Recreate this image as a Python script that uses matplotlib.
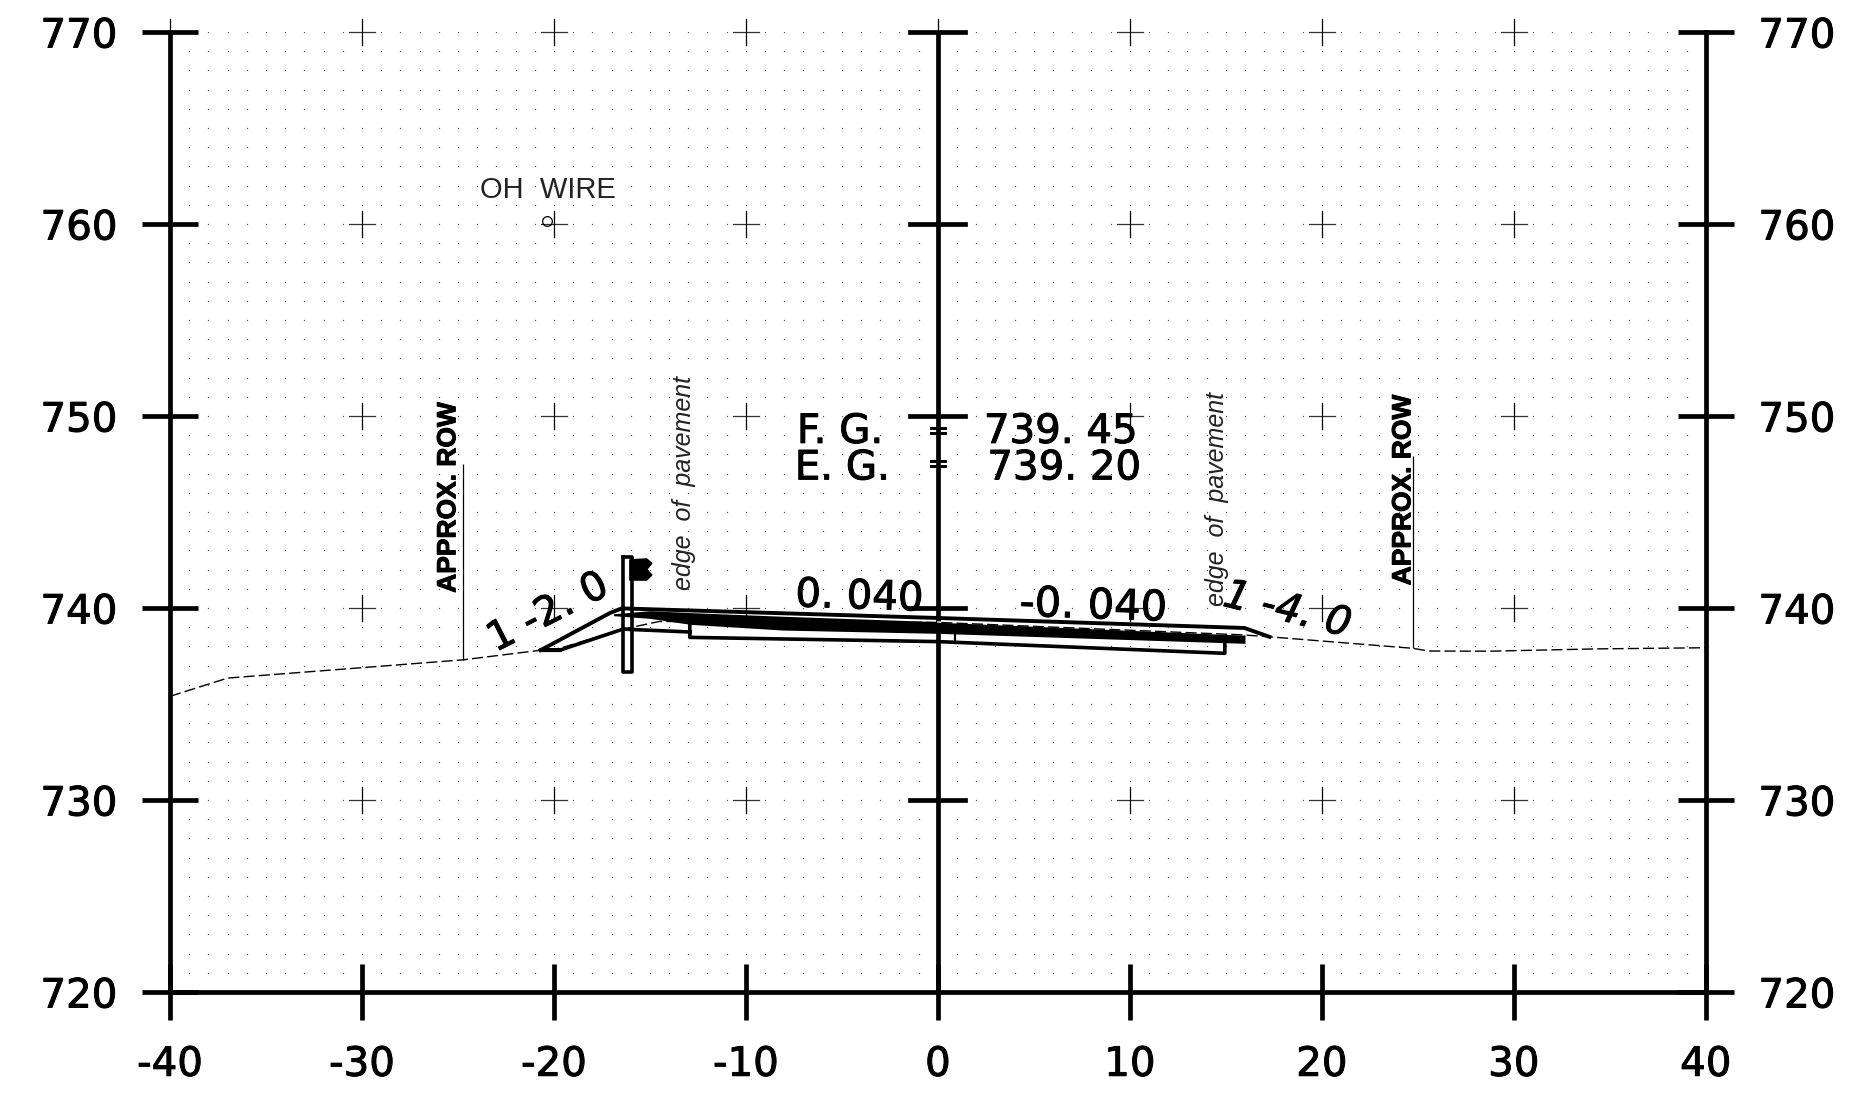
import matplotlib
matplotlib.use('Agg')
import matplotlib.pyplot as plt
import matplotlib.patheffects as pe
import numpy as np

# section grid
x_ticks = [-40, -30, -20, -10, 0, 10, 20, 30, 40]
y_ticks = [720, 730, 740, 750, 760, 770]
x_labels = ['-40', '-30', '-20', '-10', '0', '10', '20', '30', '40']
y_labels = ['720', '730', '740', '750', '760', '770']

# existing ground (dashed)
ground_x = [-40, -37, -24.74, -20.7, -19.7, -16.4, -14.5, 0, 15.9, 17.27, 24.75, 25.55, 28.7, 34.3, 40]
ground_y = [735.4, 736.35, 737.3, 737.8, 737.9, 738.9, 739.3, 739.25, 738.6, 738.5, 737.9, 737.76, 737.75, 737.87, 737.93]
gap_x = [0, 15.9]
gap_y = [739.27, 738.6]

# finished surface
surface_x = [-20.7, -17.08, -16.47, 0, 15.97, 17.27]
surface_y = [737.8, 739.74, 739.98, 739.48, 738.96, 738.5]

# pavement band
band_x = [-16.9, -15, -12.9, -8.07, 0, 16]
band_top = [739.7, 739.86, 739.76, 739.57, 739.29, 738.6]
band_bot = [739.6, 739.46, 739.15, 738.85, 738.68, 738.16]

# lower lines
lower_x = [-19.7, -20.7, -19.7, -16.4, -12.9]
lower_y = [737.8, 737.8, 737.8, 738.9, 738.75]
base_x = [-12.92, -12.92, 0, 14.95, 14.95]
base_y = [739.2, 738.47, 738.25, 737.64, 738.2]
stub_x = [0.88, 0.88]
stub_y = [738.68, 738.2]

# post and sign
post_x = [-16.4, -15.95, -15.95, -16.4, -16.4]
post_y = [742.64, 742.64, 736.68, 736.68, 742.64]
sign_x = [-16.04, -15.17, -14.91, -15.17, -14.91, -15.17, -16.04]
sign_y = [742.5, 742.55, 742.33, 742.01, 741.72, 741.46, 741.46]

# row leaders
row_x = [-24.74, 24.75]
row_bottom = [737.3, 737.9]
row_top = [747.5, 747.9]

fig = plt.figure(figsize=(18.67, 11.06), dpi=100)
W, H = 1867.0, 1106.0
ax = fig.add_axes([170 / W, (H - 992) / H, 1535.7 / W, 960 / H])
ax.set_xlim(-40, 40)
ax.set_ylim(720, 770)

heavy = 3.4
thin = 0.9
bolder = [pe.withStroke(linewidth=0.7, foreground='black')]

for s in ['left', 'right', 'bottom']:
    ax.spines[s].set_linewidth(heavy)
ax.spines['top'].set_visible(False)

ax.set_xticks(x_ticks)
ax.set_xticklabels(x_labels)
ax.set_yticks(y_ticks)
ax.set_yticklabels(y_labels)
ax.tick_params(axis='x', direction='inout', length=40, width=heavy, pad=18, labelsize=29)
ax.tick_params(axis='y', direction='inout', length=40, width=heavy, pad=18, labelsize=29,
               right=True, labelright=True)
for t in ax.xaxis.get_major_ticks() + ax.yaxis.get_major_ticks():
    t.label1.set_path_effects(bolder)
    t.label2.set_path_effects(bolder)

# dots
gx, gy = np.meshgrid(np.arange(-39, 40), np.arange(721, 771))
keep = ~((gx % 10 == 0) & (gy % 10 == 0))
ax.plot(gx[keep], gy[keep], ls='none', marker='s', ms=0.85, mew=0, color='#555555', zorder=1)

# crosses
for xt in x_ticks[1:-1]:
    for yt in y_ticks[1:]:
        if xt == 0:
            continue
        ax.plot([xt - 0.68, xt + 0.68], [yt, yt], color='#333333', lw=thin, zorder=2, clip_on=False)
        ax.plot([xt, xt], [yt - 0.68, yt + 0.68], color='black', lw=thin, zorder=2, clip_on=False)
ax.plot([-40, -40], [770, 770.68], color='black', lw=thin, clip_on=False)
ax.plot([0, 0], [770, 770.68], color='black', lw=thin, clip_on=False)

# centre line with its ticks
ax.plot([0, 0], [720, 770], color='black', lw=heavy, zorder=3)
for yt in y_ticks[1:]:
    ax.plot([-1.43, 1.43], [yt, yt], color='black', lw=heavy, zorder=3, clip_on=False)

# section lines
ax.fill_between(band_x, band_bot, band_top, color='black', lw=0, zorder=4)
ax.plot(surface_x, surface_y, color='black', lw=2.8, zorder=4)
ax.plot(lower_x, lower_y, color='black', lw=2.6, zorder=4)
ax.plot(base_x, base_y, color='black', lw=2.6, zorder=4)
ax.plot(stub_x, stub_y, color='black', lw=1.6, zorder=4)
ax.plot(gap_x, gap_y, color='white', lw=1.0, zorder=5)
ax.plot(ground_x, ground_y, color='black', lw=1.0, ls=(0, (8, 3)), zorder=5)
ax.plot(post_x, post_y, color='black', lw=2.6, zorder=6)
ax.fill(sign_x, sign_y, facecolor='black', edgecolor='black', lw=1.2, joinstyle='round', zorder=6)
ax.vlines(row_x, row_bottom, row_top, color='black', lw=0.9, zorder=3)

# notes
note = dict(fontsize=29, path_effects=bolder, zorder=7)
ax.text(-7.34, 748.6, 'F. G.', ha='left', va='baseline', **note)
ax.text(-7.45, 746.7, 'E. G.', ha='left', va='baseline', **note)
ax.text(2.4, 748.6, '739. 45', ha='left', va='baseline', **note)
ax.text(2.58, 746.7, '739. 20', ha='left', va='baseline', **note)
ax.text(0, 749.2, '=', fontsize=18, ha='center', va='center', path_effects=bolder, zorder=7)
ax.text(0, 747.5, '=', fontsize=18, ha='center', va='center', path_effects=bolder, zorder=7)
ax.text(-4.1, 740.55, '0. 040', rotation=-2, ha='center', va='center', **note)
ax.text(8.1, 740.1, '-0. 040', rotation=-2, ha='center', va='center', fontsize=30,
        path_effects=bolder, zorder=7)
ax.text(-20.3, 739.74, '1 -2. 0', rotation=27, ha='center', va='center', **note)
ax.text(18.2, 739.9, '1 -4. 0', rotation=-14, ha='center', va='center', style='italic', **note)

edge = dict(fontsize=18, rotation=90, ha='center', va='center', style='italic',
            family='Liberation Sans', color='#222222', zorder=7)
ax.text(-13.2, 746.5, 'edge  of  pavement', **edge)
ax.text(14.55, 745.7, 'edge  of  pavement', **edge)

row = dict(fontsize=19, rotation=90, ha='center', va='center', fontweight='bold',
           family='Liberation Sans', path_effects=bolder, zorder=7)
ax.text(-25.5, 745.76, 'APPROX. ROW', **row)
ax.text(24.25, 746.15, 'APPROX. ROW', **row)

ax.text(-20.3, 761.77, 'OH  WIRE', fontsize=21, ha='center', va='center',
        family='Liberation Sans', color='#222222', zorder=7)
ax.plot([-20.35], [760.17], ls='none', marker='o', ms=7, mfc='none', mec='black', mew=0.9, zorder=7)

fig.savefig('out.png', dpi=100, facecolor='white')
